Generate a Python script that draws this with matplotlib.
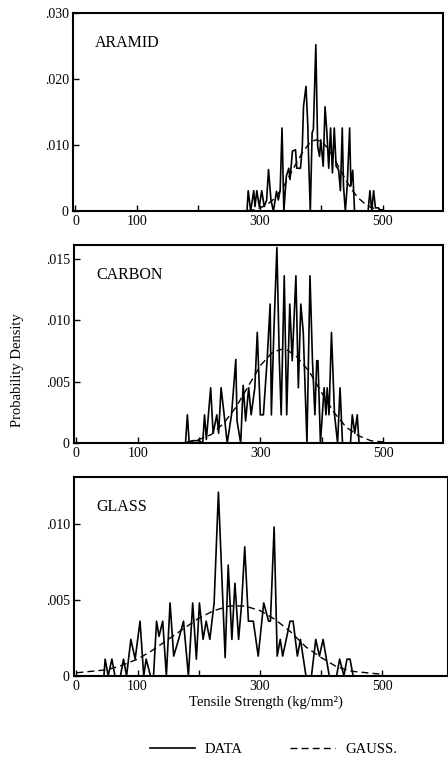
import matplotlib
matplotlib.use("agg")
import matplotlib.pyplot as plt

# ---- data ----
aramid_x = [275, 279, 281, 285, 290, 292, 295, 299, 303, 307, 311, 314, 318,
            322, 327, 330, 333, 336, 339, 343, 347, 349, 353, 358, 360, 366,
            369, 371, 375, 378, 379, 382, 385, 387, 391, 394, 397, 399, 403,
            406, 409, 412, 415, 418, 421, 424, 428, 431, 434, 436, 439, 442,
            446, 448, 451, 454, 476, 479, 482, 485, 488, 493, 496]
aramid_y = [0, 0, 0.0031, 0, 0.0031, 0.0007, 0.0031, 0.0007, 0.0031, 0.0007,
            0.0017, 0.0063, 0.0017, 0, 0.0030, 0.0017, 0.0032, 0.0126, 0,
            0.0053, 0.0065, 0.0048, 0.0091, 0.0093, 0.0065, 0.0065, 0.0098,
            0.0159, 0.0189, 0.0129, 0.0088, 0, 0.0119, 0.0124, 0.0252, 0.0098,
            0.0083, 0.0108, 0.0068, 0.0158, 0.0119, 0.0065, 0.0126, 0.0058,
            0.0126, 0.0068, 0.0063, 0.0031, 0.0126, 0.0038, 0, 0.0038, 0.0126,
            0.0038, 0.0062, 0, 0, 0.0031, 0, 0.0031, 0.0005, 0.0005, 0]
aramid_gx = [280, 290, 300, 310, 320, 330, 340, 350, 360, 370, 380, 390, 400,
             410, 420, 430, 440, 450, 460, 470, 480, 490, 500]
aramid_gy = [0.0001, 0.0002, 0.0005, 0.0009, 0.0016, 0.0027, 0.0040, 0.0057,
             0.0074, 0.0090, 0.0102, 0.0108, 0.0106, 0.0096, 0.0081, 0.0064,
             0.0047, 0.0032, 0.0020, 0.0012, 0.0006, 0.0003, 0.0002]

carbon_x = [175, 178, 181, 184, 190, 200, 206, 209, 212, 219, 223, 229, 232,
            236, 241, 246, 253, 260, 262, 268, 272, 276, 281, 285, 291, 295,
            300, 305, 311, 316, 318, 322, 327, 331, 334, 339, 343, 348, 352,
            358, 362, 366, 370, 376, 381, 385, 389, 392, 394, 398, 404, 407,
            409, 412, 416, 421, 426, 430, 434, 447, 450, 454, 458, 461]
carbon_y = [0, 0, 0.0023, 0, 0.0002, 0.0002, 0, 0.0023, 0.0003, 0.0045,
            0.0008, 0.0023, 0.0008, 0.0045, 0.0023, 0, 0.0023, 0.0068, 0.0018,
            0, 0.0047, 0.0018, 0.0045, 0.0023, 0.0045, 0.0090, 0.0023, 0.0023,
            0.0067, 0.0113, 0.0023, 0.0090, 0.0159, 0.0067, 0.0023, 0.0136,
            0.0023, 0.0113, 0.0067, 0.0136, 0.0045, 0.0113, 0.0090, 0, 0.0136,
            0.0067, 0.0023, 0.0067, 0.0067, 0, 0.0045, 0.0023, 0.0045, 0.0023,
            0.0090, 0.0023, 0, 0.0045, 0, 0, 0.0023, 0.0008, 0.0023, 0]
carbon_gx = [180, 200, 220, 240, 260, 280, 300, 320, 340, 360, 380, 400, 420,
             440, 460, 480, 500]
carbon_gy = [0.0001, 0.0003, 0.0007, 0.0016, 0.0029, 0.0046, 0.0063, 0.0074,
             0.0077, 0.0070, 0.0058, 0.0041, 0.0025, 0.0013, 0.0006, 0.0002,
             0.0001]

glass_x = [40, 45, 47, 52, 58, 63, 72, 77, 82, 89, 96, 104, 110, 114, 121,
           126, 131, 135, 141, 147, 153, 159, 167, 175, 183, 190, 196, 201,
           207, 212, 218, 225, 232, 243, 248, 254, 259, 265, 270, 275, 281,
           289, 297, 306, 314, 317, 323, 328, 333, 337, 349, 354, 361, 366,
           375, 384, 391, 397, 403, 413, 425, 430, 437, 442, 447, 452]
glass_y = [0, 0, 0.0011, 0, 0.0011, 0, 0, 0.0011, 0, 0.0024, 0.0011, 0.0036,
           0, 0.0011, 0, 0, 0.0036, 0.0026, 0.0036, 0, 0.0048, 0.0013, 0.0024,
           0.0036, 0, 0.0048, 0.0011, 0.0048, 0.0024, 0.0036, 0.0024, 0.0048,
           0.0121, 0.0012, 0.0073, 0.0024, 0.0061, 0.0024, 0.0048, 0.0085,
           0.0036, 0.0036, 0.0013, 0.0048, 0.0036, 0.0036, 0.0098, 0.0013,
           0.0024, 0.0013, 0.0036, 0.0036, 0.0013, 0.0024, 0, 0, 0.0024,
           0.0013, 0.0024, 0, 0, 0.0011, 0, 0.0011, 0.0011, 0]
glass_gx = [0, 25, 50, 75, 100, 125, 150, 175, 200, 225, 250, 275, 300, 325,
            350, 375, 400, 425, 450, 475, 500]
glass_gy = [0.0002, 0.0003, 0.0004, 0.0007, 0.0011, 0.0017, 0.0024, 0.0031,
            0.0038, 0.0043, 0.0046, 0.0046, 0.0043, 0.0037, 0.0029, 0.0019,
            0.0012, 0.0006, 0.0003, 0.0002, 0.0001]

names = ["ARAMID", "CARBON", "GLASS"]
ylims = [0.030, 0.0161, 0.0131]
yticks = [[0, 0.010, 0.020, 0.030], [0, 0.005, 0.010, 0.015], [0, 0.005, 0.010]]
ytick_labels = [["0", ".010", ".020", ".030"], ["0", ".005", ".010", ".015"],
                ["0", ".005", ".010"]]
xticks = [0, 100, 200, 300, 400, 500]
xtick_labels = ["0", "100", "", "300", "", "500"]

plt.rcParams["font.family"] = ["Liberation Serif", "DejaVu Serif"]
plt.rcParams["font.size"] = 10

fig = plt.figure(figsize=(4.48, 7.68), dpi=100)
boxes = [(0.163, 0.725, 0.826, 0.258),
         (0.165, 0.423, 0.824, 0.258),
         (0.165, 0.120, 0.835, 0.259)]
xmax = [598, 598, 607]
series = [(aramid_x, aramid_y, aramid_gx, aramid_gy),
          (carbon_x, carbon_y, carbon_gx, carbon_gy),
          (glass_x, glass_y, glass_gx, glass_gy)]

for i, (box, (dx, dy, gx, gy)) in enumerate(zip(boxes, series)):
    ax = fig.add_axes(box)
    data_line, = ax.plot(dx, dy, color="black", lw=1.2, label="DATA")
    gauss_line, = ax.plot(gx, gy, color="black", lw=1.0,
                          linestyle=(0, (5, 3)), label="GAUSS.")
    ax.set_xlim(-4, xmax[i])
    ax.set_ylim(0, ylims[i])
    ax.set_xticks(xticks)
    ax.set_xticklabels(xtick_labels)
    ax.set_yticks(yticks[i])
    ax.set_yticklabels(ytick_labels[i])
    ax.tick_params(direction="in", length=4, width=1, labelsize=10, pad=3)
    for sp in ax.spines.values():
        sp.set_linewidth(1.5)
    ax.text(0.06, 0.85, names[i], transform=ax.transAxes, fontsize=11.5,
            va="center", ha="left")

fig.text(0.04, 0.518, "Probability Density", rotation=90, fontsize=10.5,
         ha="center", va="center")
fig.text(0.594, 0.086, "Tensile Strength (kg/mm²)", fontsize=10.5,
         ha="center", va="center")

fig.legend(handles=[data_line, gauss_line], loc="center",
           bbox_to_anchor=(0.61, 0.024), ncol=2, frameon=False,
           handlelength=3.1, handletextpad=0.7, columnspacing=3.2,
           fontsize=10.5)

fig.savefig("out.png", dpi=100)
plt.close(fig)
